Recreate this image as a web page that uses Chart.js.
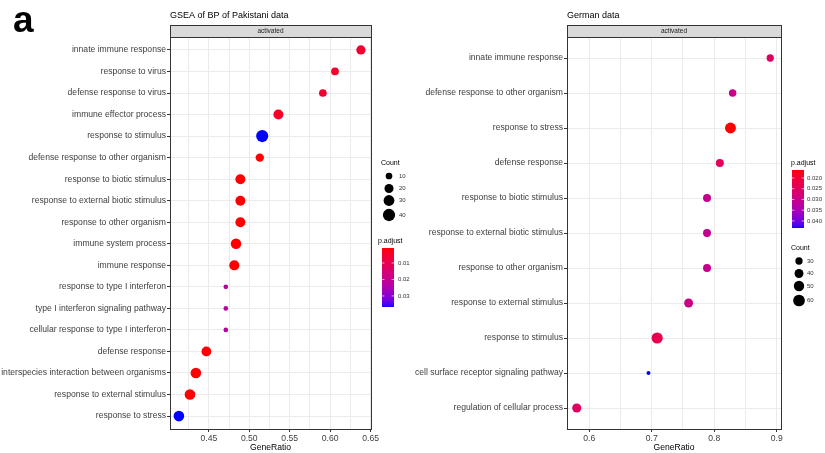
<!DOCTYPE html>
<html>
<head>
<meta charset="utf-8">
<script src="https://cdn.jsdelivr.net/npm/chart.js@4.4.1/dist/chart.umd.min.js"></script>
<style>
  html, body { margin: 0; padding: 0; background: #ffffff; }
  #wrap { position: relative; width: 825px; height: 453px; overflow: hidden; }
  canvas { position: absolute; top: 0; }
  #cLeft { left: 0; }
  #cRight { left: 408px; }
</style>
</head>
<body>
<div id="wrap">
  <canvas id="cLeft" width="412" height="453"></canvas>
  <canvas id="cRight" width="417" height="453"></canvas>
</div>
<script>
// ---------- GSEA of BP, Pakistani cohort ----------
const leftTerms = [
  "innate immune response",
  "response to virus",
  "defense response to virus",
  "immune effector process",
  "response to stimulus",
  "defense response to other organism",
  "response to biotic stimulus",
  "response to external biotic stimulus",
  "response to other organism",
  "immune system process",
  "immune response",
  "response to type I interferon",
  "type I interferon signaling pathway",
  "cellular response to type I interferon",
  "defense response",
  "interspecies interaction between organisms",
  "response to external stimulus",
  "response to stress"
];
const leftGeneRatio = [0.638, 0.606, 0.591, 0.536, 0.516, 0.513, 0.489, 0.489, 0.489,
                       0.4836, 0.4815, 0.471, 0.471, 0.471, 0.447, 0.434, 0.4267, 0.413];
const leftCount = [21, 14, 14, 25, 39, 17, 25, 25, 25, 28, 26, 4, 4, 4, 24, 29, 29, 29];
const leftPadj = [0.0050, 0.0045, 0.0050, 0.0045, 0.0367, 0.0011, 0.0009, 0.0009, 0.0009,
                  0.0009, 0.0010, 0.0225, 0.0225, 0.0225, 0.0012, 0.0011, 0.0010, 0.0367];
const leftMajorTicks = [0.45, 0.50, 0.55, 0.60, 0.65];
const leftCountLegend = [10, 20, 30, 40];
const leftPadjLegend = [0.01, 0.02, 0.03];

// ---------- German cohort ----------
const rightTerms = [
  "innate immune response",
  "defense response to other organism",
  "response to stress",
  "defense response",
  "response to biotic stimulus",
  "response to external biotic stimulus",
  "response to other organism",
  "response to external stimulus",
  "response to stimulus",
  "cell surface receptor signaling pathway",
  "regulation of cellular process"
];
const rightGeneRatio = [0.8897, 0.8295, 0.826, 0.809, 0.7885, 0.7885, 0.7885, 0.759, 0.7087, 0.6948, 0.580];
const rightCount = [30, 31, 54, 34, 34, 34, 34, 40, 56, 14, 41];
const rightPadj = [0.0250, 0.0300, 0.0163, 0.0245, 0.0305, 0.0305, 0.0305, 0.0295, 0.0230, 0.0433, 0.0248];
const rightMajorTicks = [0.6, 0.7, 0.8, 0.9];
const rightCountLegend = [30, 40, 50, 60];
const rightPadjLegend = [0.020, 0.025, 0.030, 0.035, 0.040];

// ---------- colour scale: red -> blue interpolated in CIE Lab ----------
function toLin(c) { c /= 255; return c <= 0.04045 ? c / 12.92 : Math.pow((c + 0.055) / 1.055, 2.4); }
function toSrgb(c) { c = c <= 0.0031308 ? 12.92 * c : 1.055 * Math.pow(c, 1 / 2.4) - 0.055; return Math.round(Math.min(1, Math.max(0, c)) * 255); }
function rgb2lab(r, g, b) {
  const R = toLin(r), G = toLin(g), B = toLin(b);
  const X = (0.4124 * R + 0.3576 * G + 0.1805 * B) / 0.95047;
  const Y = (0.2126 * R + 0.7152 * G + 0.0722 * B);
  const Z = (0.0193 * R + 0.1192 * G + 0.9505 * B) / 1.08883;
  const f = t => t > 0.008856 ? Math.cbrt(t) : 7.787 * t + 16 / 116;
  const fx = f(X), fy = f(Y), fz = f(Z);
  return [116 * fy - 16, 500 * (fx - fy), 200 * (fy - fz)];
}
function lab2rgb(L, a, b) {
  const fy = (L + 16) / 116, fx = fy + a / 500, fz = fy - b / 200;
  const fi = t => t > 0.206893 ? t * t * t : (t - 16 / 116) / 7.787;
  const X = fi(fx) * 0.95047, Y = fi(fy), Z = fi(fz) * 1.08883;
  const R = 3.2406 * X - 1.5372 * Y - 0.4986 * Z;
  const G = -0.9689 * X + 1.8758 * Y + 0.0415 * Z;
  const B = 0.0557 * X - 0.2040 * Y + 1.0570 * Z;
  return `rgb(${toSrgb(R)},${toSrgb(G)},${toSrgb(B)})`;
}
const LAB_LOW = rgb2lab(255, 0, 0), LAB_HIGH = rgb2lab(0, 0, 255);
function padjColor(p, lo, hi) {
  const t = Math.min(1, Math.max(0, (p - lo) / (hi - lo)));
  return lab2rgb(LAB_LOW[0] + (LAB_HIGH[0] - LAB_LOW[0]) * t,
                 LAB_LOW[1] + (LAB_HIGH[1] - LAB_LOW[1]) * t,
                 LAB_LOW[2] + (LAB_HIGH[2] - LAB_LOW[2]) * t);
}

const FONT = "'Liberation Sans', Arial, sans-serif";
const AXIS_TEXT = '#3d3d3d';

function makePanel(opts) {
  const lo = Math.min(...opts.padj), hi = Math.max(...opts.padj);
  const n = opts.terms.length;
  const major = opts.majorTicks;
  const step = major[1] - major[0];
  const allTicks = [];
  major.forEach(v => {
    const m = +(v - step / 2).toFixed(4);
    if (m >= opts.xmin) allTicks.push({ v: m, major: false });
    allTicks.push({ v: v, major: true });
  });
  const isMajor = val => major.some(m => Math.abs(m - val) < 1e-9);

  const decor = {
    id: 'decor',
    afterDraw(chart) {
      const ctx = chart.ctx, a = chart.chartArea;
      ctx.save();
      // panel border
      ctx.strokeStyle = '#333333';
      ctx.lineWidth = 1;
      ctx.strokeRect(Math.round(a.left) + 0.5, Math.round(a.top) + 0.5,
                     Math.round(a.right - a.left), Math.round(a.bottom - a.top));
      // facet strip
      const sTop = 25;
      ctx.fillStyle = '#d9d9d9';
      ctx.fillRect(Math.round(a.left) + 0.5, sTop + 0.5, Math.round(a.right - a.left), Math.round(a.top - sTop));
      ctx.strokeRect(Math.round(a.left) + 0.5, sTop + 0.5, Math.round(a.right - a.left), Math.round(a.top - sTop));
      ctx.fillStyle = '#1a1a1a';
      ctx.font = `6.5px ${FONT}`;
      ctx.textAlign = 'center';
      ctx.textBaseline = 'middle';
      ctx.fillText('activated', (a.left + a.right) / 2, (sTop + a.top) / 2 + 0.5);
      // title
      ctx.fillStyle = '#000000';
      ctx.font = `9px ${FONT}`;
      ctx.textAlign = 'left';
      ctx.fillText(opts.title, a.left, 16);
      // x-axis title
      ctx.font = `8.6px ${FONT}`;
      ctx.textAlign = 'center';
      ctx.fillText('GeneRatio', (a.left + a.right) / 2, 448);
      // panel letter
      if (opts.letter) {
        ctx.font = `bold 37px ${FONT}`;
        ctx.textAlign = 'left';
        ctx.textBaseline = 'alphabetic';
        ctx.fillText(opts.letter, 13, 32);
      }
      // legends
      opts.legends.forEach(lg => {
        if (lg.kind === 'count') drawCountLegend(ctx, lg, opts.radius);
        else drawPadjLegend(ctx, lg, lo, hi);
      });
      ctx.restore();
    }
  };

  return new Chart(document.getElementById(opts.canvas), {
    type: 'bubble',
    data: {
      datasets: [{
        data: opts.terms.map((t, i) => ({ x: opts.ratio[i], y: i, r: opts.radius(opts.count[i]) })),
        backgroundColor: opts.padj.map(p => padjColor(p, lo, hi)),
        borderWidth: 0,
        hoverRadius: 0
      }]
    },
    options: {
      responsive: false,
      animation: false,
      events: [],
      plugins: { legend: { display: false }, tooltip: { enabled: false } },
      layout: { padding: opts.padding },
      scales: {
        x: {
          type: 'linear',
          min: opts.xmin,
          max: opts.xmax,
          afterBuildTicks: s => { s.ticks = allTicks.map(t => ({ value: t.v })); },
          afterFit: s => { s.height = opts.xAxisHeight; },
          border: { display: false },
          grid: {
            color: '#ebebeb',
            lineWidth: 1,
            tickLength: 3,
            tickColor: c => (c.tick && isMajor(c.tick.value)) ? '#333333' : 'rgba(0,0,0,0)'
          },
          ticks: {
            autoSkip: false,
            maxRotation: 0,
            padding: 1,
            color: AXIS_TEXT,
            font: { family: FONT, size: 8.6 },
            callback: v => isMajor(v) ? v.toFixed(opts.decimals) : ''
          }
        },
        y: {
          type: 'linear',
          reverse: true,
          min: -0.6,
          max: n - 0.4,
          afterBuildTicks: s => { s.ticks = opts.terms.map((t, i) => ({ value: i })); },
          afterFit: s => { s.width = opts.yAxisWidth; },
          border: { display: false },
          grid: { color: '#ebebeb', lineWidth: 1, tickLength: 3, tickColor: '#333333' },
          ticks: {
            autoSkip: false,
            padding: 1,
            color: AXIS_TEXT,
            font: { family: FONT, size: 8.6 },
            callback: v => opts.terms[v]
          }
        }
      }
    },
    plugins: [decor]
  });
}

function drawCountLegend(ctx, lg, radius) {
  ctx.fillStyle = '#000000';
  ctx.font = `7px ${FONT}`;
  ctx.textAlign = 'left';
  ctx.textBaseline = 'middle';
  ctx.fillText('Count', lg.x, lg.titleY);
  lg.values.forEach((v, i) => {
    ctx.fillStyle = '#000000';
    ctx.beginPath();
    ctx.arc(lg.dotX, lg.ys[i], radius(v), 0, Math.PI * 2);
    ctx.fill();
    ctx.fillStyle = '#333333';
    ctx.font = `6px ${FONT}`;
    ctx.fillText(String(v), lg.labelX, lg.ys[i]);
  });
}

function drawPadjLegend(ctx, lg, lo, hi) {
  ctx.fillStyle = '#000000';
  ctx.font = `7px ${FONT}`;
  ctx.textAlign = 'left';
  ctx.textBaseline = 'middle';
  ctx.fillText('p.adjust', lg.x, lg.titleY);
  const h = lg.bottom - lg.top;
  for (let k = 0; k < h; k++) {
    const p = lo + (hi - lo) * (k + 0.5) / h;
    ctx.fillStyle = padjColor(p, lo, hi);
    ctx.fillRect(lg.barX, lg.top + k, lg.barW, 1.02);
  }
  lg.values.forEach(v => {
    const y = lg.top + (v - lo) / (hi - lo) * h;
    ctx.strokeStyle = 'rgba(255,255,255,0.8)';
    ctx.lineWidth = 0.8;
    ctx.beginPath();
    ctx.moveTo(lg.barX, y); ctx.lineTo(lg.barX + lg.barW * 0.2, y);
    ctx.moveTo(lg.barX + lg.barW * 0.8, y); ctx.lineTo(lg.barX + lg.barW, y);
    ctx.stroke();
    ctx.fillStyle = '#333333';
    ctx.font = `6px ${FONT}`;
    ctx.fillText(v.toFixed(lg.decimals), lg.labelX, y);
  });
}

// left panel
makePanel({
  canvas: 'cLeft',
  title: 'GSEA of BP of Pakistani data',
  letter: 'a',
  terms: leftTerms, ratio: leftGeneRatio, count: leftCount, padj: leftPadj,
  majorTicks: leftMajorTicks, decimals: 2,
  xmin: 0.402, xmax: 0.6505,
  padding: { left: 0, top: 37, right: 41, bottom: 0 },
  yAxisWidth: 170, xAxisHeight: 24,
  radius: c => 0.55 + 0.885 * Math.sqrt(c),
  legends: [
    { kind: 'count', values: leftCountLegend, x: 381, titleY: 163, dotX: 389, labelX: 399, ys: [176, 188.5, 200.5, 215] },
    { kind: 'padj', values: leftPadjLegend, decimals: 2, x: 378, titleY: 241, barX: 382, barW: 12, top: 248, bottom: 307, labelX: 398 }
  ]
});

// right panel (canvas starts at x = 408)
makePanel({
  canvas: 'cRight',
  title: 'German data',
  letter: null,
  terms: rightTerms, ratio: rightGeneRatio, count: rightCount, padj: rightPadj,
  majorTicks: rightMajorTicks, decimals: 1,
  xmin: 0.5644, xmax: 0.9069,
  padding: { left: 0, top: 37, right: 44, bottom: 0 },
  yAxisWidth: 159, xAxisHeight: 24,
  radius: c => -1.66 + 0.97 * Math.sqrt(c),
  legends: [
    { kind: 'padj', values: rightPadjLegend, decimals: 3, x: 383, titleY: 163, barX: 384, barW: 12, top: 170, bottom: 228, labelX: 399 },
    { kind: 'count', values: rightCountLegend, x: 383, titleY: 248, dotX: 391, labelX: 399, ys: [261, 273.5, 286, 300.5] }
  ]
});
</script>
</body>
</html>
